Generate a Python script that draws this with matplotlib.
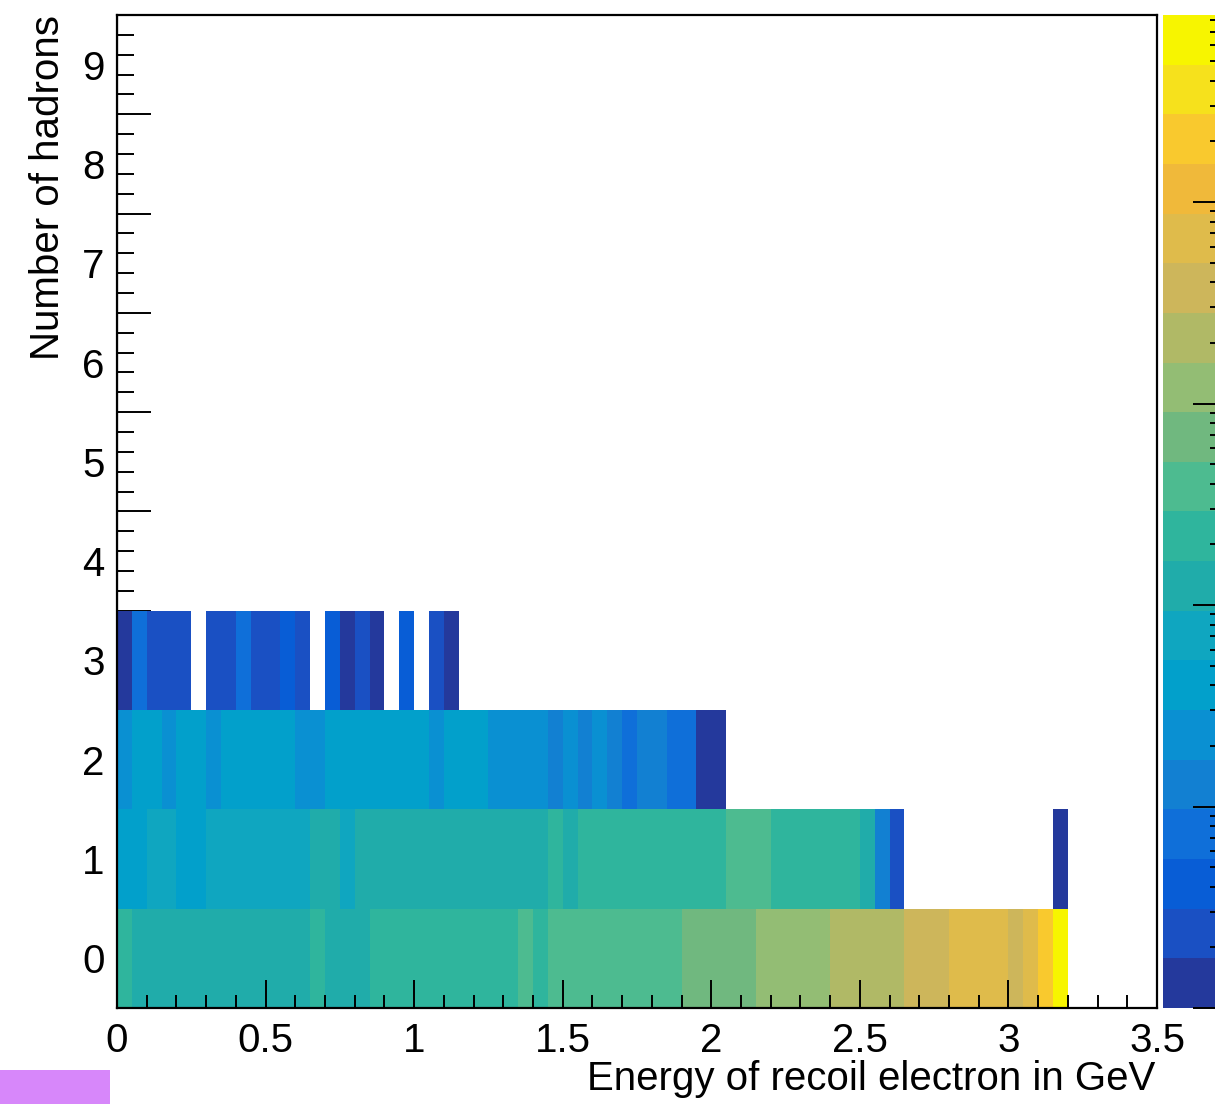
import numpy as np
import matplotlib
matplotlib.use("Agg")
import matplotlib.pyplot as plt
from matplotlib.colors import ListedColormap, LogNorm
from matplotlib.ticker import MultipleLocator, FixedLocator, LogLocator, FuncFormatter, NullFormatter
from matplotlib.patches import Rectangle

plt.rcParams['font.family'] = ['Liberation Sans', 'DejaVu Sans']

# binning of the 2D histogram (energy in GeV, number of hadrons)
x_edges = np.linspace(0.0, 3.5, 71)
y_edges = np.linspace(-0.5, 9.5, 11)

# counts per energy bin, one list per hadron multiplicity
n0 = [212, 131, 128, 124, 133, 127, 122, 135, 129, 126, 130, 121, 127,
      198, 140, 137, 142,
      205, 214, 221, 208, 226, 217, 219, 231, 224, 236,
      318, 247,
      334, 352, 347, 361, 372, 368, 381, 395, 404,
      598, 621, 644, 667, 702,
      1043, 1096, 1152, 1208, 1264,
      1712, 1836, 1958, 2074, 2187,
      3096, 3384, 3672,
      5412, 5836, 6275, 6714,
      4618, 7305, 19640, 84900]
n1 = [40, 44, 62, 58, 47, 49,
      66, 71, 64, 69, 73, 68, 75,
      102, 98, 81,
      104, 109, 112, 117, 108, 121, 115, 119, 126, 131, 124, 128, 136,
      171, 148,
      178, 184, 191, 187, 196, 203, 199, 211, 207, 215,
      302, 311, 297,
      262, 248, 236, 221, 207, 189,
      154, 12, 2,
      0, 0, 0, 0, 0, 0, 0, 0, 0, 0, 1]
n2 = [26, 35, 38, 28, 41, 39, 29, 37, 40, 36, 42, 38, 27, 25,
      34, 39, 36, 33, 37, 35, 32, 24, 31, 33, 31,
      27, 24, 22, 21, 16, 19, 15, 18, 14, 8, 13, 11, 7, 6, 1, 1]
n3 = [1, 7, 2, 2, 2, 0, 2, 3, 6, 2, 2, 4, 2, 0, 4, 1, 2, 1, 0, 4, 0, 2, 1]

# palette bands as they appear in the screenshot (bottom -> top)
band_colors = ['#24399c', '#1a50c3', '#085dd6', '#0f6fd9', '#1280d2',
               '#0a90d2', '#02a0cb', '#0fa6c0', '#20acaa', '#2fb59d',
               '#4dbb90', '#70b87f', '#93bd74', '#b0b966', '#cdb65b',
               '#dfbb4b', '#f0b93a', '#f9c92e', '#f6e11c', '#f7f500']

H = np.zeros((len(y_edges) - 1, len(x_edges) - 1))
for row, vals in enumerate([n0, n1, n2, n3]):
    H[row, :len(vals)] = vals
H = np.ma.masked_less_equal(H, 0)

W, Hpx = 1215, 1104
fig = plt.figure(figsize=(W / 100, Hpx / 100), dpi=100)
left, right, top, bottom = 117, 1157, 15, 1008
ax = fig.add_axes([left / W, 1 - bottom / Hpx, (right - left) / W, (bottom - top) / Hpx])

cmap = ListedColormap(band_colors)
norm = LogNorm(vmin=1, vmax=84900)
mesh = ax.pcolormesh(x_edges, y_edges, H, cmap=cmap, norm=norm,
                     antialiased=False, edgecolors='none')

ax.set_xlim(0, 3.5)
ax.set_ylim(-0.5, 9.5)

# x axis
ax.xaxis.set_major_locator(MultipleLocator(0.5))
ax.xaxis.set_minor_locator(MultipleLocator(0.1))
ax.xaxis.set_major_formatter(FuncFormatter(lambda v, p: '%g' % v))
ax.tick_params(axis='x', which='major', direction='in', length=20, width=1.4,
               labelsize=29, pad=10, top=False)
ax.tick_params(axis='x', which='minor', direction='in', length=9.5, width=1.4, top=False)

# y axis: labels centred on the bins, ticks on bin edges
ax.set_yticks(np.arange(0, 10))
ax.tick_params(axis='y', which='major', length=0, labelsize=29, pad=9, right=False)
sec = ax.secondary_yaxis('left')
sec.set_yticks(np.arange(-0.5, 9.6, 1.0))
sec.yaxis.set_minor_locator(FixedLocator(np.arange(-0.5, 9.51, 0.2)))
sec.yaxis.set_major_formatter(NullFormatter())
sec.tick_params(which='major', direction='in', length=24.5, width=1.4, labelleft=False)
sec.tick_params(which='minor', direction='in', length=12, width=1.4)

for sp in ax.spines.values():
    sp.set_linewidth(1.6)

ax.set_xlabel('Energy of recoil electron in GeV', fontsize=29, ha='right')
ax.xaxis.set_label_coords(0.998, -0.052)
ax.set_ylabel('Number of hadrons', fontsize=29, ha='right')
ax.yaxis.set_label_coords(-0.048, 1.0)

# palette (cut by the screenshot on the right)
cax = fig.add_axes([1163 / W, 1 - bottom / Hpx, 64 / W, (bottom - top) / Hpx])
cb = fig.colorbar(mesh, cax=cax)
cb.outline.set_visible(False)
cax.yaxis.set_ticks_position('right')
cax.yaxis.set_major_locator(LogLocator(base=10))
cax.yaxis.set_minor_locator(LogLocator(base=10, subs=np.arange(2, 10)))
cax.tick_params(which='major', direction='in', length=24.5, width=1.4, labelright=False)
cax.tick_params(which='minor', direction='in', length=12, width=1.4, labelright=False)

fig.patches.append(Rectangle((0, 0), 110 / W, 34 / Hpx, transform=fig.transFigure,
                             facecolor='#d787fa', edgecolor='none'))

fig.savefig('out.png', dpi=100)
